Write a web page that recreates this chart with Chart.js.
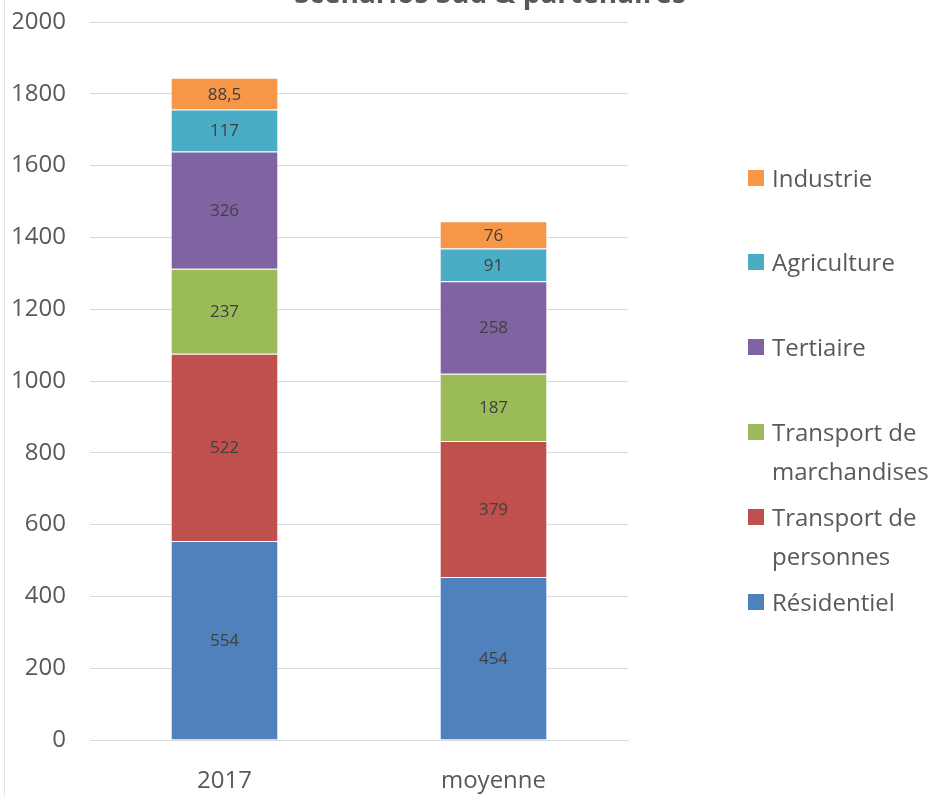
<!DOCTYPE html>
<html>
<head>
<meta charset="utf-8">
<script src="https://cdn.jsdelivr.net/npm/chart.js@4/dist/chart.umd.min.js"></script>
<style>
  html, body { margin: 0; padding: 0; background: #fff; }
  #wrap { position: relative; width: 937px; height: 797px; overflow: hidden; }
  #frame { position: absolute; left: 4px; top: 0; width: 1px; height: 797px; background: #e3e3e3; }
  #legend { position: absolute; left: 748px; top: 0; font-family: "Open Sans", sans-serif; font-size: 24px; color: #595959; }
  .item { position: absolute; left: 0; width: 189px; line-height: 39px; white-space: nowrap; }
  .box { position: absolute; left: 0; top: 12px; width: 16px; height: 16px; }
  .txt { position: absolute; left: 24px; top: 0; }
</style>
</head>
<body>
<div id="wrap">
  <div id="frame"></div>
  <canvas id="chart" width="937" height="797"></canvas>
  <div id="legend"></div>
</div>
<script>
const titleText = 'Scénarios Sud & partenaires';
const categories = ['2017', 'moyenne'];
const yTicks = [0, 200, 400, 600, 800, 1000, 1200, 1400, 1600, 1800, 2000];

const residentiel = [554, 454];
const transportPersonnes = [522, 379];
const transportMarchandises = [237, 187];
const tertiaire = [326, 258];
const agriculture = [117, 91];
const industrie = [88.5, 76];

const seriesNames = [
  'Résidentiel',
  ['Transport de', 'personnes'],
  ['Transport de', 'marchandises'],
  'Tertiaire',
  'Agriculture',
  'Industrie'
];
const seriesValues = [residentiel, transportPersonnes, transportMarchandises, tertiaire, agriculture, industrie];
const seriesColors = ['#4F81BD', '#C0504D', '#9BBB59', '#8064A2', '#4BACC6', '#F79646'];

const textColor = '#595959';
const fontFamily = '"Open Sans", sans-serif';

// labels inside each stacked segment
const segmentLabels = {
  id: 'segmentLabels',
  afterDatasetsDraw(chart) {
    const ctx = chart.ctx;
    ctx.save();
    ctx.font = '17px ' + fontFamily;
    ctx.fillStyle = '#404040';
    ctx.textAlign = 'center';
    ctx.textBaseline = 'middle';
    chart.data.datasets.forEach((ds, i) => {
      chart.getDatasetMeta(i).data.forEach((bar, j) => {
        const txt = String(ds.data[j]).replace('.', ',');
        ctx.fillText(txt, bar.x, (bar.y + bar.base) / 2 + 1);
      });
    });
    ctx.restore();
  }
};

// title, mostly cut off by the top edge like in the original
const clippedTitle = {
  id: 'clippedTitle',
  afterDraw(chart) {
    const ctx = chart.ctx;
    ctx.save();
    ctx.font = 'bold 28px ' + fontFamily;
    ctx.fillStyle = textColor;
    ctx.textAlign = 'center';
    ctx.textBaseline = 'alphabetic';
    ctx.fillText(titleText, 490, 3);
    ctx.restore();
  }
};

const datasets = seriesValues.map((values, i) => ({
  label: seriesNames[i],
  data: values,
  backgroundColor: seriesColors[i],
  borderColor: 'rgba(255,255,255,0.35)',
  borderWidth: 1,
  categoryPercentage: 1,
  barPercentage: 0.4
}));

const chart = new Chart(document.getElementById('chart'), {
  type: 'bar',
  data: { labels: categories, datasets: datasets },
  options: {
    responsive: false,
    animation: false,
    layout: { padding: { left: 13, right: 309, top: 22, bottom: 0 } },
    plugins: {
      legend: { display: false },
      tooltip: { enabled: false }
    },
    scales: {
      x: {
        stacked: true,
        afterFit(scale) { scale.height = 57; },
        grid: { display: false, drawTicks: false },
        border: { display: true, color: '#d9d9d9' },
        ticks: { color: textColor, font: { family: fontFamily, size: 24 }, padding: 27 }
      },
      y: {
        stacked: true,
        min: yTicks[0],
        max: yTicks[yTicks.length - 1],
        afterBuildTicks(scale) {
          scale.ticks = yTicks.map(v => ({ value: v }));
        },
        afterFit(scale) {
          scale.width = 77;
          scale.paddingTop = 0;
          scale.paddingBottom = 0;
        },
        grid: { color: '#d9d9d9', drawTicks: false },
        border: { display: false },
        ticks: {
          color: textColor,
          font: { family: fontFamily, size: 24 },
          padding: 24,
          callback: v => String(v)
        }
      }
    }
  },
  plugins: [segmentLabels, clippedTitle]
});

// legend on the right, top-down in reverse order like the original
const legendEl = document.getElementById('legend');
const items = chart.options.plugins.legend.labels.generateLabels(chart).reverse();
items.forEach((item, k) => {
  const div = document.createElement('div');
  div.className = 'item';
  div.style.top = (157.5 + k * 84.8) + 'px';
  const box = document.createElement('span');
  box.className = 'box';
  box.style.background = item.fillStyle;
  const txt = document.createElement('span');
  txt.className = 'txt';
  const lines = Array.isArray(item.text) ? item.text : [item.text];
  txt.innerHTML = lines.map(l => l.replace(/&/g, '&amp;')).join('<br>');
  div.appendChild(box);
  div.appendChild(txt);
  legendEl.appendChild(div);
});
</script>
</body>
</html>
